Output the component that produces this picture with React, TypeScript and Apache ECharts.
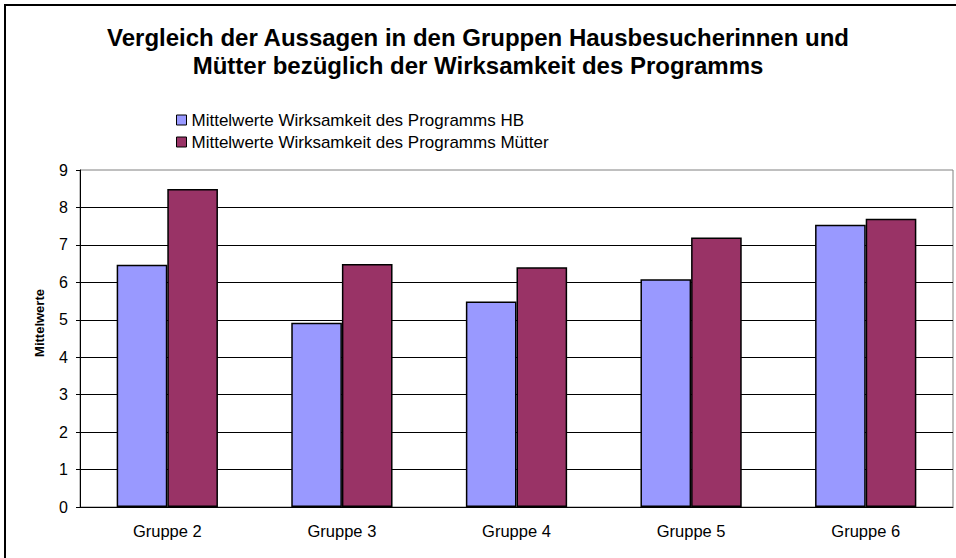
import React, { useEffect, useRef } from "react";
import * as echarts from "echarts";

const categories = ["Gruppe 2", "Gruppe 3", "Gruppe 4", "Gruppe 5", "Gruppe 6"];
const hbValues = [6.47, 4.92, 5.49, 6.08, 7.54];
const muetterValues = [8.49, 6.49, 6.4, 7.2, 7.7];
const seriesNames = [
  "Mittelwerte Wirksamkeit des Programms HB",
  "Mittelwerte Wirksamkeit des Programms Mütter",
];
const titleLines = [
  "Vergleich der Aussagen in den Gruppen Hausbesucherinnen und",
  "Mütter bezüglich der Wirksamkeit des Programms",
];
const yAxisName = "Mittelwerte";

const FONT = "'Liberation Sans', Arial, sans-serif";

export default function App() {
  const ref = useRef<HTMLDivElement>(null);
  useEffect(() => {
    if (!ref.current) return;
    const chart = echarts.init(ref.current, null, { renderer: "svg" });
    chart.setOption({
      animation: false,
      backgroundColor: "#ffffff",
      textStyle: { fontFamily: FONT },
      title: {
        text: titleLines.join("\n"),
        left: "center",
        top: 18,
        textStyle: {
          fontFamily: FONT,
          fontSize: 24,
          fontWeight: "bold",
          color: "#000",
          lineHeight: 28,
        },
      },
      legend: {
        orient: "vertical",
        left: 171,
        top: 105,
        itemWidth: 10,
        itemHeight: 10,
        itemGap: 2,
        icon: "rect",
        itemStyle: { borderColor: "#000", borderWidth: 1 },
        textStyle: { fontFamily: FONT, fontSize: 17, color: "#000", lineHeight: 20 },
        data: seriesNames,
      },
      grid: {
        left: 80,
        right: 3,
        top: 170,
        bottom: 51,
        show: true,
        borderColor: "#808080",
        borderWidth: 1,
        backgroundColor: "#fff",
      },
      xAxis: {
        type: "category",
        data: categories,
        axisLine: { show: true, lineStyle: { color: "#000", width: 1 } },
        axisTick: { show: false },
        axisLabel: { fontFamily: FONT, fontSize: 16.5, color: "#000", margin: 15 },
      },
      yAxis: {
        type: "value",
        min: 0,
        max: 9,
        interval: 1,
        axisLine: { show: true, lineStyle: { color: "#000", width: 1 } },
        axisTick: { show: true, length: 4, lineStyle: { color: "#000" } },
        axisLabel: { fontFamily: FONT, fontSize: 16, color: "#000", margin: 12 },
        splitLine: {
          show: true,
          showMaxLine: false,
          lineStyle: { color: "#000", width: 1 },
        },
      },
      series: [
        {
          name: seriesNames[0],
          type: "bar",
          data: hbValues,
          barGap: "0%",
          barCategoryGap: "42%",
          itemStyle: { color: "#9999FF", borderColor: "#000", borderWidth: 1.5 },
        },
        {
          name: seriesNames[1],
          type: "bar",
          data: muetterValues,
          itemStyle: { color: "#993366", borderColor: "#000", borderWidth: 1.5 },
        },
      ],
      graphic: [
        {
          type: "rect",
          shape: { x: 5, y: 5, width: 960, height: 560 },
          style: { fill: "none", stroke: "#000", lineWidth: 2 },
          silent: true,
          z: 100,
        },
        {
          type: "text",
          x: 39,
          y: 323,
          rotation: Math.PI / 2,
          style: {
            text: yAxisName,
            fontFamily: FONT,
            fontSize: 13,
            fontWeight: "bold",
            fill: "#000",
            align: "center",
            verticalAlign: "middle",
          },
        },
      ],
    });
    return () => chart.dispose();
  }, []);
  return (
    <div
      ref={ref}
      style={{ position: "absolute", left: 0, top: 0, width: 956, height: 558 }}
    />
  );
}
